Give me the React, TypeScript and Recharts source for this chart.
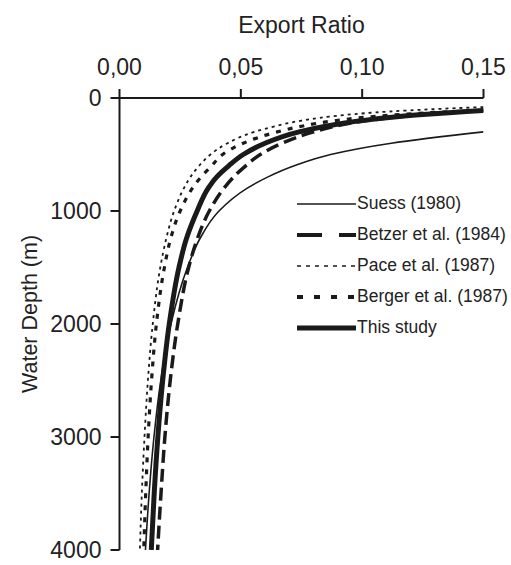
import { LineChart, Line, XAxis, YAxis, Legend, Label } from "recharts";

// depth levels (m) shared by all profiles
const depths = [80, 100, 110, 120, 150, 200, 250, 300, 400, 500, 600, 700, 800, 1000, 1250, 1500, 2000, 2500, 3000, 3500, 4000];

// export ratio per profile at each depth (null = off the chart, ratio > 0.15)
const suess = [null, null, null, null, null, null, null, 0.15, 0.112, 0.087, 0.072, 0.061, 0.0525, 0.041, 0.033, 0.028, 0.0212, 0.017, 0.0142, 0.0122, 0.0107];
const betzer = [null, null, 0.15, 0.141, 0.123, 0.102, 0.089, 0.08, 0.067, 0.058, 0.052, 0.047, 0.043, 0.037, 0.032, 0.0285, 0.024, 0.0209, 0.0187, 0.0171, 0.0157];
const pace = [0.15, 0.128, 0.119, 0.111, 0.093, 0.075, 0.064, 0.0555, 0.0445, 0.0375, 0.0328, 0.0292, 0.0265, 0.0225, 0.0192, 0.0168, 0.0137, 0.0117, 0.0103, 0.0092, 0.0084];
const berger = [null, null, 0.15, 0.138, 0.113, 0.089, 0.075, 0.065, 0.051, 0.0425, 0.038, 0.0335, 0.03, 0.025, 0.021, 0.0185, 0.0152, 0.0132, 0.0118, 0.0108, 0.01];
const thisStudy = [null, null, 0.15, 0.143, 0.122, 0.1, 0.085, 0.074, 0.06, 0.051, 0.045, 0.04, 0.0365, 0.032, 0.0275, 0.0245, 0.0205, 0.0178, 0.0158, 0.0143, 0.0131];

const ratioTicks = [0, 0.05, 0.1, 0.15];
const depthTicks = [0, 1000, 2000, 3000, 4000];

const data = depths.map((depth, i) => ({
  depth,
  suess: suess[i],
  betzer: betzer[i],
  pace: pace[i],
  berger: berger[i],
  thisStudy: thisStudy[i],
}));

const INK = "#1a1a1a";
const TEXT = "#222";
const FONT = "'Liberation Sans', Arial, sans-serif";

const series = [
  { key: "suess", name: "Suess (1980)", width: 1.6, dash: undefined, legendDash: undefined, legendWidth: 1.6 },
  { key: "betzer", name: "Betzer et al. (1984)", width: 3.5, dash: "13 6", legendDash: "25 17", legendWidth: 4 },
  { key: "pace", name: "Pace et al. (1987)", width: 1.8, dash: "3 4", legendDash: "4 5", legendWidth: 1.5 },
  { key: "berger", name: "Berger et al. (1987)", width: 3.2, dash: "5 7", legendDash: "6 11", legendWidth: 4 },
  { key: "thisStudy", name: "This study", width: 5, dash: undefined, legendDash: undefined, legendWidth: 5 },
];

function LegendBox() {
  return (
    <div style={{ fontFamily: FONT, fontSize: 17.5, color: TEXT }}>
      {series.map((s) => (
        <div key={s.key} style={{ display: "flex", alignItems: "center", height: 31 }}>
          <svg width={61} height={10} style={{ display: "block" }}>
            <line
              x1={1}
              y1={5}
              x2={60}
              y2={5}
              stroke={INK}
              strokeWidth={s.legendWidth}
              strokeDasharray={s.legendDash}
            />
          </svg>
          <span style={{ whiteSpace: "nowrap" }}>{s.name}</span>
        </div>
      ))}
    </div>
  );
}

export default function App() {
  return (
    <div style={{ width: 511, height: 565, background: "#fff" }}>
      <style>{`body{margin:0}`}</style>
      <LineChart
        width={511}
        height={565}
        data={data}
        layout="vertical"
        margin={{ top: 8, right: 27.5, bottom: 15, left: 9.5 }}
        style={{ fontFamily: FONT }}
      >
        <XAxis
          type="number"
          orientation="top"
          height={90}
          domain={[0, 0.15]}
          ticks={ratioTicks}
          allowDataOverflow
          tickFormatter={(v: number) => v.toFixed(2).replace(".", ",")}
          tick={{ fontSize: 23, fill: TEXT }}
          tickSize={9}
          tickMargin={14}
          axisLine={{ stroke: INK, strokeWidth: 2 }}
          tickLine={{ stroke: INK, strokeWidth: 2 }}
        >
          <Label value="Export Ratio" position="insideTop" offset={9} fontSize={23} fill={TEXT} />
        </XAxis>
        <YAxis
          type="number"
          dataKey="depth"
          width={110}
          domain={[0, 4000]}
          ticks={depthTicks}
          allowDataOverflow
          tick={{ fontSize: 23, fill: TEXT }}
          tickSize={9}
          tickMargin={9}
          axisLine={{ stroke: INK, strokeWidth: 2 }}
          tickLine={{ stroke: INK, strokeWidth: 2 }}
          label={{
            content: () => (
              <text
                x={30}
                y={314}
                transform="rotate(-90 30 314)"
                textAnchor="middle"
                dominantBaseline="central"
                fontSize={21.5}
                fill={TEXT}
                fontFamily={FONT}
              >
                Water Depth (m)
              </text>
            ),
          }}
        />
        {series.map((s) => (
          <Line
            key={s.key}
            dataKey={s.key}
            name={s.name}
            type="monotone"
            stroke={INK}
            strokeWidth={s.width}
            strokeDasharray={s.dash}
            dot={false}
            activeDot={false}
            isAnimationActive={false}
          />
        ))}
        <Legend
          layout="vertical"
          align="center"
          verticalAlign="middle"
          content={() => <LegendBox />}
          wrapperStyle={{ position: "absolute", left: 296, top: 188, width: 215 }}
        />
      </LineChart>
    </div>
  );
}
